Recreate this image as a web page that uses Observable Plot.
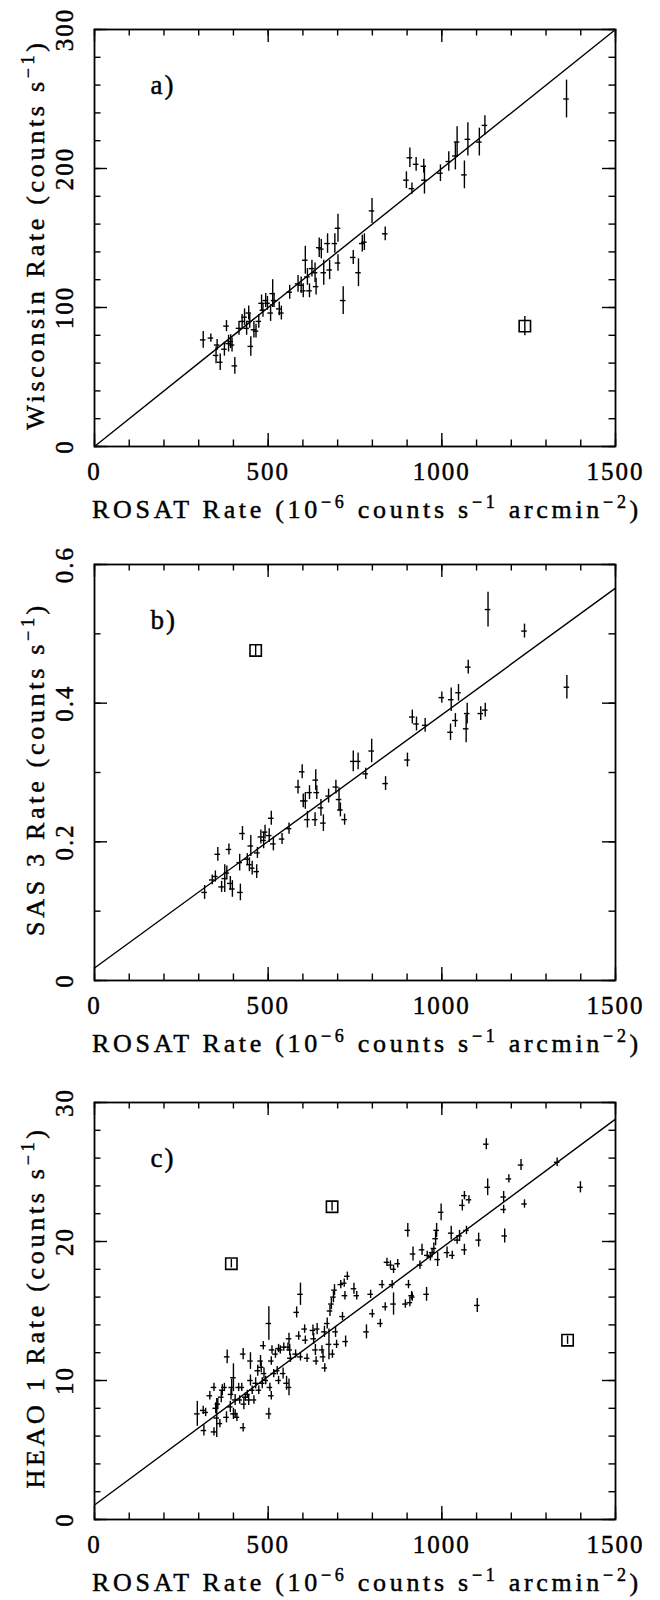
<!DOCTYPE html>
<html>
<head>
<meta charset="utf-8">
<script src="https://cdn.jsdelivr.net/npm/d3@7"></script>
<script src="https://cdn.jsdelivr.net/npm/@observablehq/plot@0.6"></script>
<style>
  body { margin: 0; background: #fff; }
  #chart svg { display: block; }
  #chart svg text { stroke: black; stroke-width: 0.45px; }
</style>
</head>
<body>
<div id="chart"></div>
<script>
// ---------- shared axis values ----------
const xMajorTicks = [0, 500, 1000, 1500];
const xMinorTicks = [0, 100, 200, 300, 400, 500, 600, 700, 800, 900, 1000, 1100, 1200, 1300, 1400, 1500];
const xTitle = [["ROSAT Rate (10", 0], ["\u22126", 1], [" counts s", 0], ["\u22121", 1], [" arcmin", 0], ["\u22122", 1], [")", 0]];

// ---------- panel a : Wisconsin ----------
const rosatA = [313,335,350,353,362,374,380,386,392,396,404,416,425,432,438,444,447,450,459,465,473,481,485,493,498,507,513,517,532,538,562,586,595,601,607,613,619,626,635,638,647,653,660,671,677,692,701,701,716,745,760,771,777,799,837,898,908,914,926,948,950,996,1020,1039,1044,1065,1075,1108,1124,1359];
const wiscA  = [76.7,78,65.5,73,60.6,70,86.6,74,75.4,73,58,85,90,93,85,96,90,72,84,83,90,103,98,105,103,96,110,105,99,96,111,117,116,112,134,122,112,128,125,115,143,142,125,146,127,146,157,132,105,136,125,146,147,169.5,153,191.6,207.7,185.5,203,201.6,191.6,196.6,205,209,219,195.4,221,219,231,250];
const wiscErrA = [6,3,6,4,6,5,4,6,5,5,6,5,5,6,5,5,5,7,6,5,5,6,5,5,5,6,10,5,5,5,5,6,6,5,10,6,5,6,7,6,7,7,9,7,7,7,10,6,10,5,10,6,6,9,5,6,7,4,5,5,10,6,7,10,11,10,12,10,7,13.6];
const outRosatA = [1239];
const outWiscA = [86.6];
const outWiscErrA = [7];
const fitXA = [0, 1500];
const fitYA = [0, 300];
const yMajorA = [0, 100, 200, 300];
const yMinorA = [0,20,40,60,80,100,120,140,160,180,200,220,240,260,280,300];
const yTitleA = [["Wisconsin Rate (counts s", 0], ["\u22121", 1], [")", 0]];

// ---------- panel b : SAS 3 ----------
const rosatB = [317,339,348,355,366,375,381,387,391,397,418,420,426,440,446,450,454,467,469,479,487,491,503,509,515,540,560,586,598,601,607,613,619,635,637,640,652,659,674,695,704,708,720,745,759,781,798,838,901,915,927,952,1000,1025,1027,1039,1048,1070,1073,1076,1112,1125,1133,1238,1360];
const sasB   = [0.127,0.145,0.150,0.182,0.135,0.147,0.155,0.189,0.140,0.132,0.170,0.127,0.212,0.175,0.167,0.194,0.162,0.157,0.184,0.207,0.202,0.214,0.209,0.234,0.197,0.204,0.219,0.279,0.301,0.259,0.259,0.232,0.271,0.232,0.289,0.271,0.249,0.227,0.266,0.279,0.261,0.246,0.232,0.316,0.316,0.298,0.331,0.284,0.318,0.380,0.370,0.368,0.408,0.358,0.405,0.375,0.415,0.363,0.385,0.452,0.385,0.390,0.535,0.504,0.423];
const sasErrB = [0.01,0.007,0.008,0.01,0.008,0.02,0.01,0.008,0.01,0.012,0.012,0.012,0.01,0.008,0.01,0.015,0.01,0.01,0.008,0.01,0.012,0.01,0.01,0.01,0.01,0.008,0.008,0.01,0.01,0.01,0.012,0.012,0.01,0.01,0.015,0.01,0.012,0.012,0.01,0.01,0.017,0.01,0.008,0.015,0.012,0.008,0.017,0.01,0.01,0.01,0.01,0.01,0.008,0.012,0.017,0.01,0.012,0.02,0.015,0.01,0.01,0.01,0.025,0.01,0.017];
const outRosatB = [464];
const outSasB = [0.476];
const outSasErrB = [0.008];
const fitXB = [0, 1500];
const fitYB = [0.018, 0.566];
const yMajorB = [0, 0.2, 0.4, 0.6];
const yMinorB = [0, 0.1, 0.2, 0.3, 0.4, 0.5, 0.6];
const yTitleB = [["SAS 3 Rate (counts s", 0], ["\u22121", 1], [")", 0]];

// ---------- panel c : HEAO 1 ----------
const rosatC = [296,313,320,315,332,344,344,349,352,355,361,365,368,374,380,382,391,393,395,400,400,405,405,410,415,418,424,428,428,430,434,440,444,449,449,454,459,464,470,473,478,480,483,486,488,493,502,502,505,509,509,511,516,521,526,530,530,535,543,545,553,557,560,560,562,564,579,582,588,593,593,605,607,612,629,631,636,638,641,655,658,662,663,670,675,678,682,685,688,691,694,697,709,714,719,721,723,728,747,755,783,795,800,823,828,837,842,852,857,861,861,873,895,904,908,913,902,915,917,937,943,956,958,967,972,977,982,985,988,998,1015,1027,1030,1044,1051,1059,1065,1065,1071,1078,1102,1106,1128,1132,1178,1178,1181,1193,1228,1238,1332,1399];
const heaoC  = [7.6,7.85,7.7,6.4,8.9,9.5,6.3,8.0,7.3,8.3,6.9,8.8,9.3,9.5,7.35,11.7,8.1,9.0,9.5,10.2,7.6,8.6,7.6,7.35,9.5,8.6,9.5,11.9,6.6,8.3,8.8,9.0,8.6,11.4,10.0,9.3,8.6,9.8,10.7,9.3,11.4,10.95,9.8,12.5,10.5,10.0,14.1,7.6,9.5,11.4,8.9,12.2,10.5,11.9,10.7,12.3,10.0,12.2,10.5,12.4,9.8,12.4,13.0,9.5,12.2,11.6,11.9,14.9,13.2,16.2,11.7,13.7,12.9,11.6,13.6,13.0,12.2,11.4,13.7,12.2,11.7,13.5,10.9,14.1,12.6,15.0,15.5,11.9,16.0,16.5,13.5,12.6,16.9,14.6,17.0,16.1,12.8,17.5,16.6,16.1,13.5,16.2,14.8,14.1,16.9,15.3,18.5,18.3,16.9,15.5,18.0,18.4,15.5,16.9,15.6,16.1,20.8,16.0,19.1,18.3,19.4,16.2,19.0,18.9,19.2,19.5,20.2,20.8,18.7,22.1,19.2,20.6,19.0,20.1,20.4,22.6,23.3,19.4,20.8,23.0,15.4,20.1,27.0,23.9,23.2,22.3,20.4,24.5,25.5,22.7,25.7,23.9];
const heaoErrC = [0.9,0.3,0.3,0.4,0.3,0.3,0.3,0.4,1.4,0.4,0.3,0.4,0.4,0.3,0.4,0.5,0.4,0.4,0.6,1.0,0.4,0.4,0.3,0.3,0.3,0.3,0.3,0.4,0.3,0.4,0.3,0.3,0.4,0.6,0.4,0.3,0.3,0.4,0.4,0.3,0.4,0.4,0.4,0.3,0.4,0.3,1.2,0.4,0.3,0.3,0.3,0.3,0.3,0.3,0.3,0.3,0.3,0.3,0.4,0.3,0.5,0.3,0.4,0.6,0.4,0.3,0.3,0.4,0.3,0.8,0.3,0.3,0.3,0.3,0.4,0.4,0.4,0.3,0.4,0.3,0.4,0.4,0.3,0.4,1.1,0.4,0.4,0.3,0.4,0.4,0.4,0.3,0.3,0.3,0.3,0.3,0.4,0.3,0.4,0.3,0.5,0.3,0.3,0.3,0.3,0.3,0.3,0.3,0.3,0.8,0.3,0.3,0.3,0.3,0.3,0.3,0.5,0.3,0.5,0.3,0.4,0.5,0.3,0.3,0.3,0.4,0.5,0.5,0.5,0.6,0.4,0.5,0.3,0.3,0.4,0.4,0.3,0.4,0.3,0.3,0.5,0.5,0.4,0.6,0.4,0.3,0.5,0.3,0.4,0.3,0.3,0.4];
const outRosatC = [394, 684, 1362];
const outHeaoC = [18.4, 22.5, 12.9];
const outHeaoErrC = [0.3, 0.3, 0.3];
const fitXC = [0, 1500];
const fitYC = [1.04, 28.8];
const yMajorC = [0, 10, 20, 30];
const yMinorC = [0,2,4,6,8,10,12,14,16,18,20,22,24,26,28,30];
const yTitleC = [["HEAO 1 Rate (counts s", 0], ["\u22121", 1], [")", 0]];

// ---------- drawing ----------
const FONT = "'Liberation Serif', 'Times New Roman', serif";

function rich(textSel, parts) {
  let raised = false;
  for (const [s, sup] of parts) {
    const t = textSel.append("tspan").text(s);
    if (sup && !raised) { t.attr("dy", -10).attr("font-size", 18); raised = true; }
    else if (sup) { t.attr("font-size", 18); }
    else if (!sup && raised) { t.attr("dy", 10); raised = false; }
  }
}

function panel(o) {
  const ml = 94, mr = 45;
  const W = 660 - ml - mr, H = o.height - o.mt - o.mb;
  const pts = o.x.map((v, i) => ({x: v, y: o.y[i], e: o.err[i]}));
  const out = o.outX.map((v, i) => ({x: v, y: o.outY[i], e: o.outErr[i]}));
  const fit = o.fitX.map((v, i) => ({x: v, y: o.fitY[i]}));
  const minorLen = 6.5, majorLen = 13;
  const tk = {stroke: "black", strokeWidth: 1.4};
  const svg = Plot.plot({
    width: 660, height: o.height,
    marginTop: o.mt, marginBottom: o.mb, marginLeft: ml, marginRight: mr,
    x: {domain: [0, 1500]},
    y: {domain: o.yDomain},
    style: {fontFamily: FONT, fontSize: "25px", background: "white", color: "black", letterSpacing: "2px"},
    marks: [
      Plot.tickX(xMinorTicks, {x: d => d, insetTop: H - minorLen, ...tk}),
      Plot.tickX(xMinorTicks, {x: d => d, insetBottom: H - minorLen, ...tk}),
      Plot.tickX(xMajorTicks, {x: d => d, insetTop: H - majorLen, ...tk}),
      Plot.tickX(xMajorTicks, {x: d => d, insetBottom: H - majorLen, ...tk}),
      Plot.tickY(o.yMinor, {y: d => d, insetRight: W - minorLen, ...tk}),
      Plot.tickY(o.yMinor, {y: d => d, insetLeft: W - minorLen, ...tk}),
      Plot.tickY(o.yMajor, {y: d => d, insetRight: W - majorLen, ...tk}),
      Plot.tickY(o.yMajor, {y: d => d, insetLeft: W - majorLen, ...tk}),
      Plot.axisX({anchor: "bottom", ticks: xMajorTicks, tickSize: 0, tickPadding: 16,
                  tickFormat: d => String(d), label: null, fontSize: 25}),
      Plot.axisY({anchor: "left", ticks: o.yMajor, tickSize: 0, tickRotate: -90, tickPadding: 22,
                  tickFormat: d => String(d), label: null, fontSize: 25}),
      Plot.line(fit, {x: "x", y: "y", stroke: "black", strokeWidth: 1.4}),
      Plot.ruleX(pts, {x: "x", y1: d => d.y - d.e, y2: d => d.y + d.e, stroke: "black", strokeWidth: 1.4}),
      Plot.ruleY(pts, {y: "y", x1: d => d.x - 8, x2: d => d.x + 8, stroke: "black", strokeWidth: 1.4}),
      Plot.ruleX(out, {x: "x", y1: d => d.y - d.e, y2: d => d.y + d.e, stroke: "black", strokeWidth: 1.4}),
      Plot.dot(out, {x: "x", y: "y", symbol: "square", r: 6.4, stroke: "black", strokeWidth: 1.6, fill: "none"}),
      Plot.text([o.tag], {frameAnchor: "top-left", dx: 56, dy: 64, textAnchor: "start", lineAnchor: "bottom",
                          text: d => d, fontSize: 27}),
      Plot.frame({stroke: "black", strokeWidth: 1.8})
    ]
  });
  const s = d3.select(svg);
  const xt = s.append("text")
    .attr("x", ml - 2).attr("y", o.mt + H + 72)
    .attr("text-anchor", "start")
    .attr("fill", "black").attr("font-family", FONT).attr("font-size", 26)
    .style("letter-spacing", "3.7px").style("white-space", "pre");
  rich(xt, xTitle);
  const yt = s.append("text")
    .attr("transform", `translate(44,${o.mt + H / 2 - 3}) rotate(-90)`)
    .attr("text-anchor", "middle")
    .attr("fill", "black").attr("font-family", FONT).attr("font-size", 26)
    .style("letter-spacing", "3.7px").style("white-space", "pre");
  rich(yt, o.yTitle);
  return svg;
}

const chart = document.getElementById("chart");
chart.append(panel({height: 536, mt: 29, mb: 90, x: rosatA, y: wiscA, err: wiscErrA,
  outX: outRosatA, outY: outWiscA, outErr: outWiscErrA, fitX: fitXA, fitY: fitYA,
  yDomain: [0, 300], yMajor: yMajorA, yMinor: yMinorA, yTitle: yTitleA, tag: "a)"}));
chart.append(panel({height: 538, mt: 28, mb: 94, x: rosatB, y: sasB, err: sasErrB,
  outX: outRosatB, outY: outSasB, outErr: outSasErrB, fitX: fitXB, fitY: fitYB,
  yDomain: [0, 0.6], yMajor: yMajorB, yMinor: yMinorB, yTitle: yTitleB, tag: "b)"}));
chart.append(panel({height: 526, mt: 28, mb: 81, x: rosatC, y: heaoC, err: heaoErrC,
  outX: outRosatC, outY: outHeaoC, outErr: outHeaoErrC, fitX: fitXC, fitY: fitYC,
  yDomain: [0, 30], yMajor: yMajorC, yMinor: yMinorC, yTitle: yTitleC, tag: "c)"}));
</script>
</body>
</html>
